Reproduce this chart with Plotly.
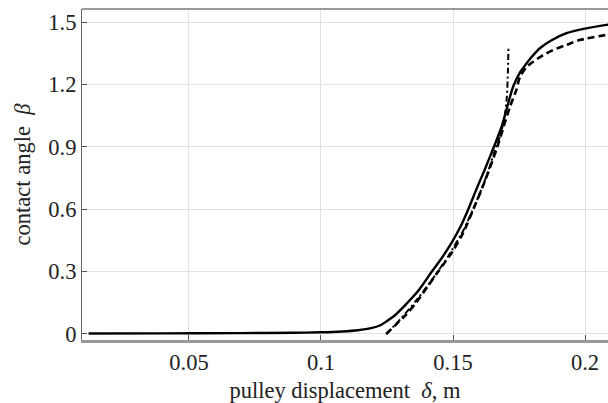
import plotly.graph_objects as go

# Solid curve
solid_x = [0.012, 0.04, 0.07, 0.09, 0.1, 0.108, 0.114, 0.119, 0.1225, 0.125, 0.128, 0.132, 0.137,
           0.142, 0.146, 0.150, 0.153, 0.1558, 0.159, 0.162, 0.1655, 0.1685, 0.1705, 0.1728,
           0.1755, 0.1778, 0.180, 0.183, 0.187, 0.193, 0.2, 0.21]
solid_y = [0.002, 0.003, 0.004, 0.006, 0.008, 0.012, 0.018, 0.028, 0.042, 0.062, 0.09, 0.14, 0.21,
           0.30, 0.37, 0.45, 0.52, 0.60, 0.70, 0.79, 0.90, 1.0, 1.09, 1.19,
           1.26, 1.30, 1.335, 1.375, 1.41, 1.446, 1.468, 1.49]

# Dashed curve
dash_x = [0.1247, 0.128, 0.132, 0.136, 0.1405, 0.1444, 0.150, 0.154, 0.1577, 0.161, 0.164, 0.1668,
          0.169, 0.1716, 0.1739, 0.1754, 0.178, 0.1804, 0.184, 0.1879, 0.193, 0.198, 0.21]
dash_y = [0.0, 0.04, 0.09, 0.15, 0.23, 0.30, 0.40, 0.49, 0.60, 0.70, 0.80, 0.90,
          0.99, 1.093, 1.17, 1.237, 1.285, 1.309, 1.34, 1.365, 1.39, 1.413, 1.442]

# Dash-dot curve
dd_x = [0.1247, 0.13, 0.136, 0.142, 0.148, 0.154, 0.159, 0.163, 0.1663, 0.1678, 0.1695, 0.1704, 0.1708, 0.171]
dd_y = [0.0, 0.07, 0.16, 0.26, 0.37, 0.50, 0.64, 0.77, 0.90, 0.95, 1.04, 1.14, 1.26, 1.381]

x_ticks = [0.05, 0.1, 0.15, 0.2]
x_labels = ["0.05", "0.1", "0.15", "0.2"]
y_ticks = [0, 0.3, 0.6, 0.9, 1.2, 1.5]
y_labels = ["0", "0.3", "0.6", "0.9", "1.2", "1.5"]

fig = go.Figure()
fig.add_trace(go.Scatter(x=dd_x, y=dd_y, mode="lines",
                         line=dict(color="black", width=2, dash="6px,3px,2px,3px",
                                   shape="spline", smoothing=0.5)))
fig.add_trace(go.Scatter(x=dash_x, y=dash_y, mode="lines",
                         line=dict(color="black", width=2.6, dash="7px,4px",
                                   shape="spline", smoothing=0.8)))
fig.add_trace(go.Scatter(x=solid_x, y=solid_y, mode="lines",
                         line=dict(color="black", width=2.4, shape="spline", smoothing=0.8)))

font = dict(family="Liberation Serif", size=22.5, color="#222")
fig.update_layout(
    width=608, height=403,
    margin=dict(l=82, r=0, t=9, b=63),
    plot_bgcolor="white", paper_bgcolor="white",
    showlegend=False,
    font=font,
    xaxis=dict(
        range=[0.0095, 0.2087], tickvals=x_ticks, ticktext=x_labels,
        ticks="inside", ticklen=5, tickcolor="#555", tickwidth=1,
        showgrid=True, gridcolor="#e2e2e2", gridwidth=1,
        showline=True, linecolor="#999", linewidth=2.5, mirror=False,
        zeroline=False, tickfont=font,
        title=dict(text="pulley displacement  <i>δ</i>, m", font=font, standoff=10),
    ),
    yaxis=dict(
        range=[-0.029, 1.5625], tickvals=y_ticks, ticktext=y_labels,
        ticks="inside", ticklen=5, tickcolor="#555", tickwidth=1,
        showgrid=True, gridcolor="#e2e2e2", gridwidth=1,
        showline=True, linecolor="#666", linewidth=1.2, mirror=False,
        zeroline=False, tickfont=font,
        title=dict(text="contact angle  <i>β</i>", font=font, standoff=11),
    ),
)
# top frame line
fig.add_shape(type="line", xref="paper", yref="paper", x0=0, x1=1, y0=1, y1=1,
              line=dict(color="#777", width=1.5))

fig.write_html("out.html")
